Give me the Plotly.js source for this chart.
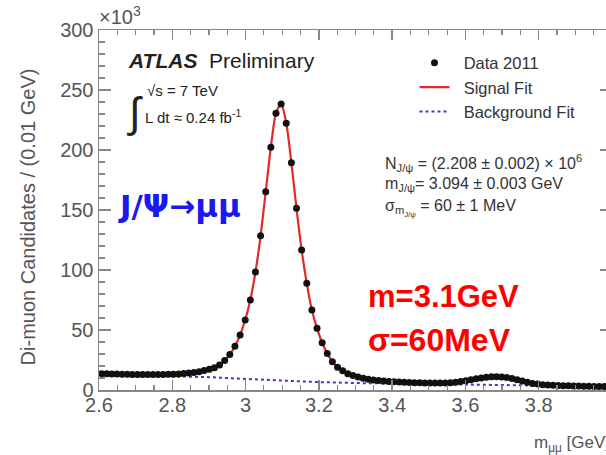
<!DOCTYPE html>
<html>
<head>
<meta charset="utf-8">
<script src="https://cdn.plot.ly/plotly-3.0.1.min.js"></script>
<style>
html,body{margin:0;padding:0;overflow:hidden;background:#fff;width:606px;height:455px;}
#chart{width:614px;height:455px;}
</style>
</head>
<body>
<div id="chart"></div>
<script>
// Di-muon invariant mass bins (GeV) and candidates per bin (x10^3)
const massBins = [2.607,2.621,2.635,2.649,2.663,2.677,2.691,2.705,2.719,2.733,
2.747,2.761,2.775,2.789,2.803,2.817,2.831,2.845,2.859,2.873,
2.887,2.901,2.915,2.929,2.943,2.957,2.971,2.985,2.999,3.013,
3.027,3.041,3.055,3.069,3.083,3.097,3.111,3.125,3.139,3.153,
3.167,3.181,3.195,3.209,3.223,3.237,3.251,3.265,3.279,3.293,
3.307,3.321,3.335,3.349,3.363,3.377,3.391,3.405,3.419,3.433,
3.447,3.461,3.475,3.489,3.503,3.517,3.531,3.545,3.559,3.573,
3.587,3.601,3.615,3.629,3.643,3.657,3.671,3.685,3.699,3.713,
3.727,3.741,3.755,3.769,3.783,3.797,3.811,3.825,3.839,3.853,
3.867,3.881,3.895,3.909,3.923,3.937,3.951,3.965,3.979,3.993];
const dataCounts = [13.6,13.5,13.4,13.3,13.2,13.1,13.0,13.0,12.9,12.9,
12.9,12.9,13.0,13.1,13.2,13.4,13.7,14.1,14.6,15.3,
16.2,17.2,18.5,20.8,24.5,29.5,36.5,45.8,58.3,75.0,
98.3,128.5,165.3,202.3,230.6,238.3,222.3,189.4,151.4,116.7,
88.9,66.7,51.4,39.4,30.5,23.5,19.0,16.0,13.6,12.0,
10.8,9.8,9.0,8.4,7.9,7.5,7.1,6.8,6.6,6.4,
6.2,6.1,6.0,5.9,5.8,5.8,5.8,5.9,6.1,6.5,
7.1,7.8,8.6,9.4,10.1,10.6,11.0,11.1,10.9,10.4,
9.6,8.6,7.5,6.4,5.5,4.9,4.4,4.1,3.9,3.7,
3.6,3.5,3.4,3.3,3.2,3.1,3.0,3.0,2.9,2.9];
// Background fit
const bgMass = [2.6,2.7,2.8,2.9,3.0,3.1,3.2,3.3,3.4,3.5,3.6,3.7,3.8,3.9,4.0];
const bgCounts = [12.9,12.3,11.7,10.7,9.2,7.8,6.6,5.8,5.3,4.8,4.3,3.9,3.5,3.2,2.9];
// Axis ticks
const xTicks = [2.6,2.8,3.0,3.2,3.4,3.6,3.8,4.0];
const yTicks = [0,50,100,150,200,250,300];

const FONT = 'Liberation Sans, Arial, Helvetica, sans-serif';

const traces = [
  {x: bgMass, y: bgCounts, mode: 'lines', name: '  Background Fit', legendrank: 3,
   line: {color: '#3a3ad0', width: 2, dash: 'dot'}, hoverinfo: 'skip'},
  {x: massBins, y: dataCounts, mode: 'lines', name: '  Signal Fit', legendrank: 2,
   line: {color: '#e02a2a', width: 2.2, shape: 'spline', smoothing: 0.8}, hoverinfo: 'skip'},
  {x: massBins, y: dataCounts, mode: 'markers', name: '  Data 2011', legendrank: 1,
   marker: {color: '#111', size: 7}, hoverinfo: 'skip'}
];

const axisCommon = {
  showline: true, linecolor: '#888', linewidth: 1.5, mirror: 'ticks',
  ticks: 'inside', tickcolor: '#888', tickwidth: 1.5,
  showgrid: false, zeroline: false, ticklabeloverflow: 'allow',
  tickfont: {family: FONT, size: 20, color: '#555'}
};

const layout = {
  width: 614, height: 455,
  margin: {l: 99, r: 2, t: 30, b: 65},
  paper_bgcolor: '#fff', plot_bgcolor: '#fff',
  showlegend: true,
  legend: {x: 0.615, y: 0.957, xanchor: 'left', yanchor: 'top',
    font: {family: FONT, size: 16.5, color: '#333'}, bgcolor: 'rgba(0,0,0,0)',
    tracegroupgap: 0, itemwidth: 30},
  xaxis: Object.assign({}, axisCommon, {
    range: [2.6, 4.0], tickvals: xTicks, ticklen: 10, ticklabelstandoff: -4,
    minor: {dtick: 0.05, ticklen: 5, ticks: 'inside', tickcolor: '#888', tickwidth: 1.2}
  }),
  yaxis: Object.assign({}, axisCommon, {
    range: [0, 300], tickvals: yTicks, ticklen: 12,
    minor: {dtick: 10, ticklen: 6, ticks: 'inside', tickcolor: '#888', tickwidth: 1.2}
  }),
  annotations: [
    {xref: 'paper', yref: 'paper', x: -0.004, y: 1.0, xanchor: 'left', yanchor: 'bottom',
     text: '×10<sup>3</sup>', showarrow: false, font: {family: FONT, size: 20, color: '#555'}},
    {xref: 'paper', yref: 'paper', x: -0.138, y: 0.48, textangle: -90,
     xanchor: 'center', yanchor: 'middle',
     text: 'Di-muon Candidates / (0.01 GeV)', showarrow: false,
     font: {family: FONT, size: 20, color: '#555'}},
    {xref: 'paper', yref: 'paper', x: 1.0, y: -0.15, xanchor: 'right', yanchor: 'middle',
     text: 'm<sub>μμ</sub> [GeV]', showarrow: false, font: {family: FONT, size: 17, color: '#555'}},
    {xref: 'paper', yref: 'paper', x: 0.052, y: 0.915, xanchor: 'left', yanchor: 'middle',
     text: '<b><i>ATLAS</i></b>  Preliminary', showarrow: false,
     font: {family: FONT, size: 21, color: '#222'}},
    {xref: 'paper', yref: 'paper', x: 0.05, y: 0.77, xanchor: 'left', yanchor: 'middle',
     text: '∫', showarrow: false, font: {family: FONT, size: 42, color: '#222'}},
    {xref: 'paper', yref: 'paper', x: 0.09, y: 0.833, xanchor: 'left', yanchor: 'middle',
     text: '√s = 7 TeV', showarrow: false, font: {family: FONT, size: 15, color: '#222'}},
    {xref: 'paper', yref: 'paper', x: 0.085, y: 0.76, xanchor: 'left', yanchor: 'middle',
     text: 'L dt ≈ 0.24 fb<sup>-1</sup>', showarrow: false, font: {family: FONT, size: 15, color: '#222'}},
    {xref: 'paper', yref: 'paper', x: 0.033, y: 0.51, xanchor: 'left', yanchor: 'middle',
     text: '<b>J/Ψ→μμ</b>', showarrow: false, font: {family: 'DejaVu Sans, sans-serif', size: 31, color: '#1a1aee'}},
    {xref: 'paper', yref: 'paper', x: 0.553, y: 0.63, xanchor: 'left', yanchor: 'middle',
     text: 'N<sub>J/ψ</sub> = (2.208 ± 0.002) × 10<sup>6</sup>', showarrow: false,
     font: {family: FONT, size: 16, color: '#333'}},
    {xref: 'paper', yref: 'paper', x: 0.553, y: 0.572, xanchor: 'left', yanchor: 'middle',
     text: 'm<sub>J/ψ</sub>= 3.094 ± 0.003 GeV', showarrow: false,
     font: {family: FONT, size: 16, color: '#333'}},
    {xref: 'paper', yref: 'paper', x: 0.553, y: 0.505, xanchor: 'left', yanchor: 'middle',
     text: 'σ<sub>m<sub>J/ψ</sub></sub> = 60 ± 1 MeV', showarrow: false,
     font: {family: FONT, size: 16, color: '#333'}},
    {xref: 'paper', yref: 'paper', x: 0.52, y: 0.26, xanchor: 'left', yanchor: 'middle',
     text: '<b>m=3.1GeV</b>', showarrow: false, font: {family: FONT, size: 31, color: '#ff0000'}},
    {xref: 'paper', yref: 'paper', x: 0.52, y: 0.14, xanchor: 'left', yanchor: 'middle',
     text: '<b>σ=60MeV</b>', showarrow: false, font: {family: FONT, size: 32, color: '#ff0000'}}
  ]
};

Plotly.newPlot('chart', traces, layout, {displayModeBar: false, staticPlot: true});
</script>
</body>
</html>
